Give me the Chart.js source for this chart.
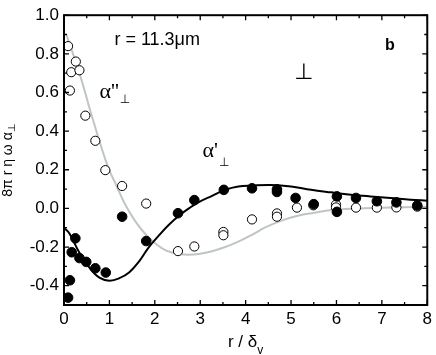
<!DOCTYPE html>
<html>
<head>
<meta charset="utf-8">
<script src="https://cdn.jsdelivr.net/npm/chart.js@4.4.1/dist/chart.umd.min.js"></script>
<style>
html,body{margin:0;padding:0;background:#fff;}
#wrap{position:relative;width:436px;height:355px;}
</style>
</head>
<body>
<div id="wrap"><canvas id="c" width="436" height="355"></canvas></div>
<script>
// ---- data ----
const xTickVals = [0, 1, 2, 3, 4, 5, 6, 7, 8];
const yTickVals = [-0.4, -0.2, 0.0, 0.2, 0.4, 0.6, 0.8, 1.0];

// alpha'' (open circles)
const openX = [0.09, 0.13, 0.16, 0.26, 0.34, 0.47, 0.69, 0.91, 1.28, 1.81, 2.51, 2.87, 3.51, 3.51, 4.14, 4.69, 4.69, 5.13, 5.49, 5.99, 5.99, 6.43, 6.89, 7.32, 7.78];
const openY = [0.84, 0.61, 0.705, 0.76, 0.715, 0.48, 0.35, 0.198, 0.116, 0.025, -0.221, -0.197, -0.122, -0.139, -0.057, -0.026, -0.043, 0.004, 0.016, 0.02, 0.005, 0.004, 0.004, 0.005, 0.009];

// alpha' (filled circles)
const fillX = [0.09, 0.13, 0.17, 0.25, 0.34, 0.49, 0.69, 0.92, 1.28, 1.81, 2.51, 2.87, 3.52, 4.14, 4.69, 4.69, 5.10, 5.50, 6.01, 6.01, 6.43, 6.89, 7.32, 7.78];
const fillY = [-0.462, -0.372, -0.227, -0.155, -0.257, -0.277, -0.31, -0.332, -0.043, -0.169, -0.025, 0.043, 0.096, 0.104, 0.099, 0.085, 0.054, 0.022, 0.062, -0.018, 0.054, 0.037, 0.031, 0.015];

// fit curve alpha' (black)
const fitPX = [0, 0.12, 0.34, 0.56, 0.78, 1.0, 1.22, 1.44, 1.65, 1.87, 2.09, 2.31, 2.53, 2.75, 2.97, 3.26, 3.55, 3.84, 4.13, 4.57, 5.0, 5.44, 5.88, 6.32, 6.75, 7.19, 7.63, 8.0];
const fitPY = [-0.10, -0.13, -0.23, -0.307, -0.358, -0.374, -0.361, -0.33, -0.275, -0.2, -0.14, -0.085, -0.038, 0.0, 0.033, 0.065, 0.096, 0.113, 0.118, 0.121, 0.113, 0.096, 0.083, 0.071, 0.062, 0.054, 0.045, 0.04];

// fit curve alpha'' (grey)
const fitPPX = [0.05, 0.34, 0.63, 0.96, 1.15, 1.36, 1.58, 1.8, 2.02, 2.24, 2.53, 2.75, 2.97, 3.26, 3.55, 3.84, 4.13, 4.42, 4.79, 5.15, 5.52, 5.88, 6.32, 6.97, 8.0];
const fitPPY = [0.90, 0.70, 0.465, 0.22, 0.12, 0.015, -0.07, -0.135, -0.183, -0.217, -0.236, -0.24, -0.236, -0.222, -0.2, -0.172, -0.138, -0.1, -0.063, -0.038, -0.022, -0.008, -0.002, 0.003, 0.008];

const pts = (xs, ys) => xs.map((x, i) => ({x: x, y: ys[i]}));
const SANS = '"Liberation Sans", Arial, sans-serif';

const decor = {
  id: 'decor',
  afterDatasetsDraw(chart) {
    const ctx = chart.ctx, a = chart.chartArea;
    const xs = chart.scales.x, ys = chart.scales.y;
    ctx.save();
    // frame
    ctx.strokeStyle = '#000';
    ctx.lineWidth = 2;
    ctx.strokeRect(a.left, a.top, a.right - a.left, a.bottom - a.top);
    // ticks (inward, on all sides)
    ctx.lineWidth = 1.3;
    ctx.beginPath();
    const xt = [];
    xTickVals.forEach((v, i) => { xt.push([v, 5]); if (i < xTickVals.length - 1) xt.push([(v + xTickVals[i + 1]) / 2, 3]); });
    xt.forEach(([v, len]) => {
      const px = xs.getPixelForValue(v);
      ctx.moveTo(px, a.bottom); ctx.lineTo(px, a.bottom - len);
      ctx.moveTo(px, a.top); ctx.lineTo(px, a.top + len);
    });
    const yt = [];
    yTickVals.forEach((v, i) => { yt.push([v, 5]); if (i < yTickVals.length - 1) yt.push([(v + yTickVals[i + 1]) / 2, 3]); });
    yt.push([yTickVals[0] - 0.1, 3]);
    yt.forEach(([v, len]) => {
      const py = ys.getPixelForValue(v);
      ctx.moveTo(a.left, py); ctx.lineTo(a.left + len, py);
      ctx.moveTo(a.right, py); ctx.lineTo(a.right - len, py);
    });
    ctx.stroke();

    ctx.fillStyle = '#000';
    ctx.textBaseline = 'alphabetic';
    // annotations
    ctx.textAlign = 'left';
    ctx.font = '18px ' + SANS;
    ctx.fillText('r = 11.3\u03bcm', xs.getPixelForValue(1.11), ys.getPixelForValue(0.845));
    ctx.font = 'bold 16px ' + SANS;
    ctx.fillText('b', xs.getPixelForValue(7.07), ys.getPixelForValue(0.82));
    ctx.textAlign = 'center';
    ctx.font = '22px "DejaVu Sans", sans-serif';
    ctx.fillText('\u22a5', xs.getPixelForValue(5.28), ys.getPixelForValue(0.668));

    function alphaLabel(txt, xv, yv, subDrop) {
      ctx.textAlign = 'left';
      ctx.font = '22px "Liberation Serif", "Times New Roman", serif';
      const px = xs.getPixelForValue(xv), py = ys.getPixelForValue(yv);
      ctx.fillText(txt, px, py);
      const w = ctx.measureText(txt).width;
      ctx.font = '12px "DejaVu Sans", sans-serif';
      ctx.fillText('\u22a5', px + w + 1, py + subDrop);
    }
    alphaLabel("\u03b1''", 0.78, 0.573, 5);
    alphaLabel("\u03b1'", 3.05, 0.265, 9);

    // x axis title
    ctx.font = '17px ' + SANS;
    ctx.textAlign = 'left';
    const t = 'r / \u03b4';
    const tw = ctx.measureText(t).width;
    const cx = (a.left + a.right) / 2;
    const sx = cx - (tw + 6) / 2;
    ctx.fillText(t, sx, 347);
    ctx.font = '12px ' + SANS;
    ctx.fillText('v', sx + tw, 354);

    // y axis title
    ctx.save();
    ctx.translate(12, (a.top + a.bottom) / 2);
    ctx.rotate(-Math.PI / 2);
    ctx.font = '14px ' + SANS;
    const yt1 = '8\u03c0 r \u03b7 \u03c9 \u03b1';
    const w1 = ctx.measureText(yt1).width;
    ctx.font = '10px "DejaVu Sans", sans-serif';
    const w2 = ctx.measureText('\u22a5').width;
    const start = -(w1 + w2) / 2;
    ctx.font = '14px ' + SANS;
    ctx.fillText(yt1, start, 0);
    ctx.font = '10px "DejaVu Sans", sans-serif';
    ctx.fillText('\u22a5', start + w1, 3);
    ctx.restore();

    ctx.restore();
  }
};

new Chart(document.getElementById('c'), {
  type: 'scatter',
  data: {
    datasets: [
      {data: pts(fillX, fillY), pointRadius: 4.8, pointBackgroundColor: '#000', pointBorderColor: '#000', pointBorderWidth: 1, showLine: false, order: 0},
      {data: pts(openX, openY), pointRadius: 4.6, pointBackgroundColor: '#fff', pointBorderColor: '#000', pointBorderWidth: 1, showLine: false, order: 0},
      {data: pts(fitPX, fitPY), showLine: true, pointRadius: 0, borderColor: '#000', borderWidth: 2, tension: 0.4, order: 2},
      {data: pts(fitPPX, fitPPY), showLine: true, pointRadius: 0, borderColor: '#bfc5c5', borderWidth: 2, tension: 0.4, order: 3}
    ]
  },
  options: {
    responsive: false,
    animation: false,
    devicePixelRatio: 1,
    layout: {padding: {top: 7, right: 6, left: 0, bottom: 0}},
    plugins: {legend: {display: false}, tooltip: {enabled: false}},
    scales: {
      x: {
        type: 'linear', min: 0, max: 8,
        grid: {display: false, drawTicks: false},
        border: {display: false},
        afterBuildTicks: s => { s.ticks = xTickVals.map(v => ({value: v})); },
        afterFit: s => { s.height = 50; },
        ticks: {color: '#000', padding: 4, font: {size: 17, family: SANS}, callback: v => String(v), maxRotation: 0}
      },
      y: {
        type: 'linear', min: -0.5, max: 1.0,
        grid: {display: false, drawTicks: false},
        border: {display: false},
        afterBuildTicks: s => { s.ticks = yTickVals.map(v => ({value: v})); },
        afterFit: s => { s.width = 64; },
        ticks: {color: '#000', padding: 5, font: {size: 17, family: SANS}, callback: v => Number(v).toFixed(1)}
      }
    }
  },
  plugins: [decor]
});
</script>
</body>
</html>
